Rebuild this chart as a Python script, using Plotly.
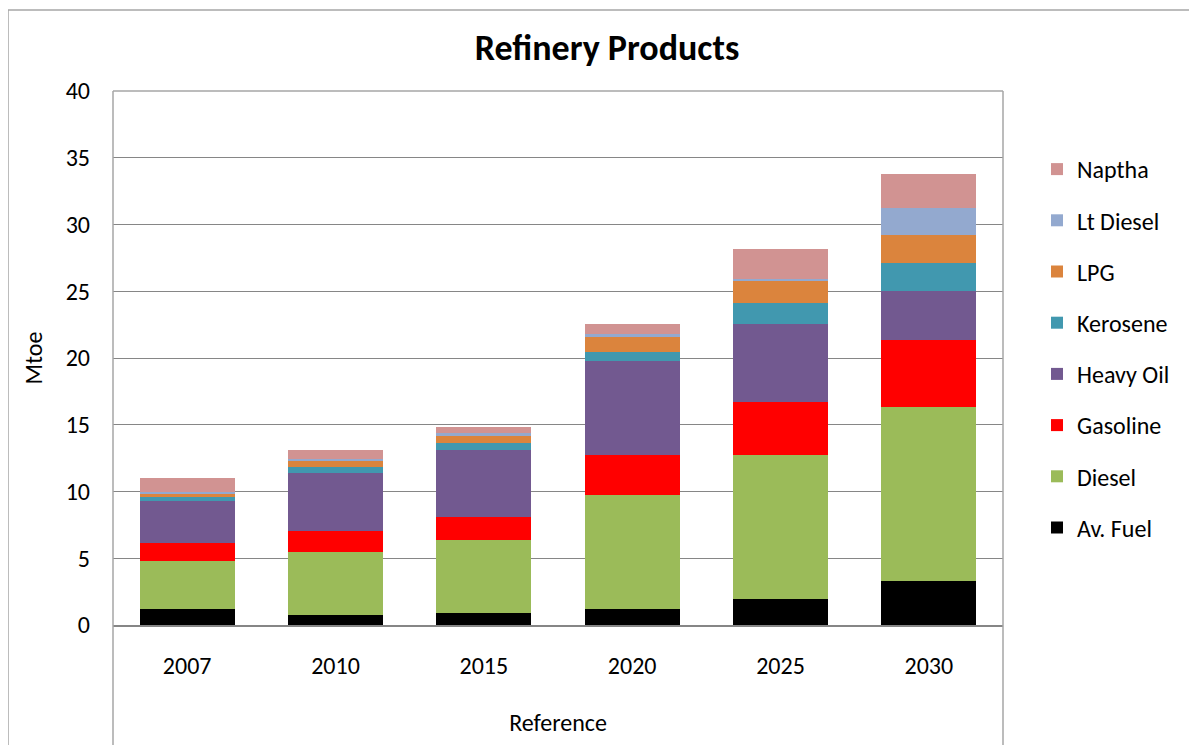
import plotly.graph_objects as go

years = ["2007", "2010", "2015", "2020", "2025", "2030"]
av_fuel = [1.20, 0.72, 0.90, 1.22, 1.93, 3.30]
diesel = [3.57, 4.75, 5.47, 8.52, 10.78, 13.00]
gasoline = [1.35, 1.55, 1.75, 2.97, 3.99, 5.05]
heavy_oil = [3.19, 4.39, 4.96, 7.04, 5.87, 3.69]
kerosene = [0.25, 0.39, 0.55, 0.72, 1.57, 2.10]
lpg = [0.23, 0.48, 0.55, 1.13, 1.63, 2.07]
lt_diesel = [0.17, 0.15, 0.18, 0.17, 0.17, 2.00]
naptha = [1.05, 0.68, 0.50, 0.80, 2.22, 2.57]

series = [
    ("Av. Fuel", av_fuel, "#000000"),
    ("Diesel", diesel, "#9BBB59"),
    ("Gasoline", gasoline, "#FF0000"),
    ("Heavy Oil", heavy_oil, "#725990"),
    ("Kerosene", kerosene, "#4198AF"),
    ("LPG", lpg, "#DB843D"),
    ("Lt Diesel", lt_diesel, "#93A9CF"),
    ("Naptha", naptha, "#D19392"),
]

# page has an 8px body margin; work in figure coordinates (page - 8)
OFF = 8
W, H = 1197 - OFF, 745 - OFF
L, R, T, B = 113 - OFF, 1003 - OFF, 91 - OFF, 625 - OFF
FONT = "Carlito, Calibri, Lato, sans-serif"

def px(x):  # page x -> paper
    return (x - OFF - L) / (R - L)

def py(y):  # page y -> paper
    return (B - (y - OFF)) / (B - T)

fig = go.Figure()
n = len(series)
for i, (name, vals, col) in enumerate(series):
    fig.add_trace(go.Bar(
        x=years, y=vals, name=name,
        marker=dict(color=col, line=dict(width=0)),
        legendgroup=f"g{i}", legendrank=100 + (n - i),
    ))

border = "#A6A6A6"
shapes = [
    dict(type="line", xref="paper", yref="paper", x0=px(8), x1=px(8), y0=py(10), y1=py(760),
         line=dict(color=border, width=1.5)),
    dict(type="line", xref="paper", yref="paper", x0=px(8), x1=px(1210), y0=py(10), y1=py(10),
         line=dict(color=border, width=1.5)),
    dict(type="line", xref="paper", yref="paper", x0=px(113), x1=px(113), y0=py(91), y1=py(760),
         line=dict(color=border, width=1.5)),
    dict(type="line", xref="paper", yref="paper", x0=px(1003), x1=px(1003), y0=py(91), y1=py(760),
         line=dict(color=border, width=1.5)),
    dict(type="line", xref="paper", yref="paper", x0=px(113), x1=px(1003), y0=py(91), y1=py(91),
         line=dict(color=border, width=1.5)),
]

fig.update_layout(
    width=W, height=H,
    margin=dict(l=L, r=W - R, t=T, b=H - B),
    paper_bgcolor="white", plot_bgcolor="white",
    barmode="stack", bargap=0.36,
    font=dict(family=FONT, size=24, color="#000000"),
    title=dict(text="<b>Refinery Products</b>", x=(607 - OFF) / W, xanchor="center",
               y=1 - (47 - OFF) / H, yanchor="middle",
               font=dict(family=FONT, size=36, color="#000000")),
    xaxis=dict(
        showgrid=False, showline=True, linecolor="#868686", linewidth=1.5,
        ticks="", tickfont=dict(size=24), ticklabelstandoff=18,
        title=dict(text="Reference", font=dict(size=24), standoff=36),
    ),
    yaxis=dict(
        range=[0, 40], dtick=5, showgrid=True, gridcolor="#868686", gridwidth=1,
        showline=False, zeroline=False, ticks="", tickfont=dict(size=24),
        ticklabelstandoff=22,
        title=dict(text="Mtoe", font=dict(size=24), standoff=16),
    ),
    legend=dict(
        x=px(1037), xanchor="left", y=py(147), yanchor="top",
        traceorder="grouped", tracegroupgap=17,
        font=dict(size=24), bgcolor="rgba(0,0,0,0)", itemwidth=30,
    ),
    shapes=shapes,
)

fig.write_html("out.html")
